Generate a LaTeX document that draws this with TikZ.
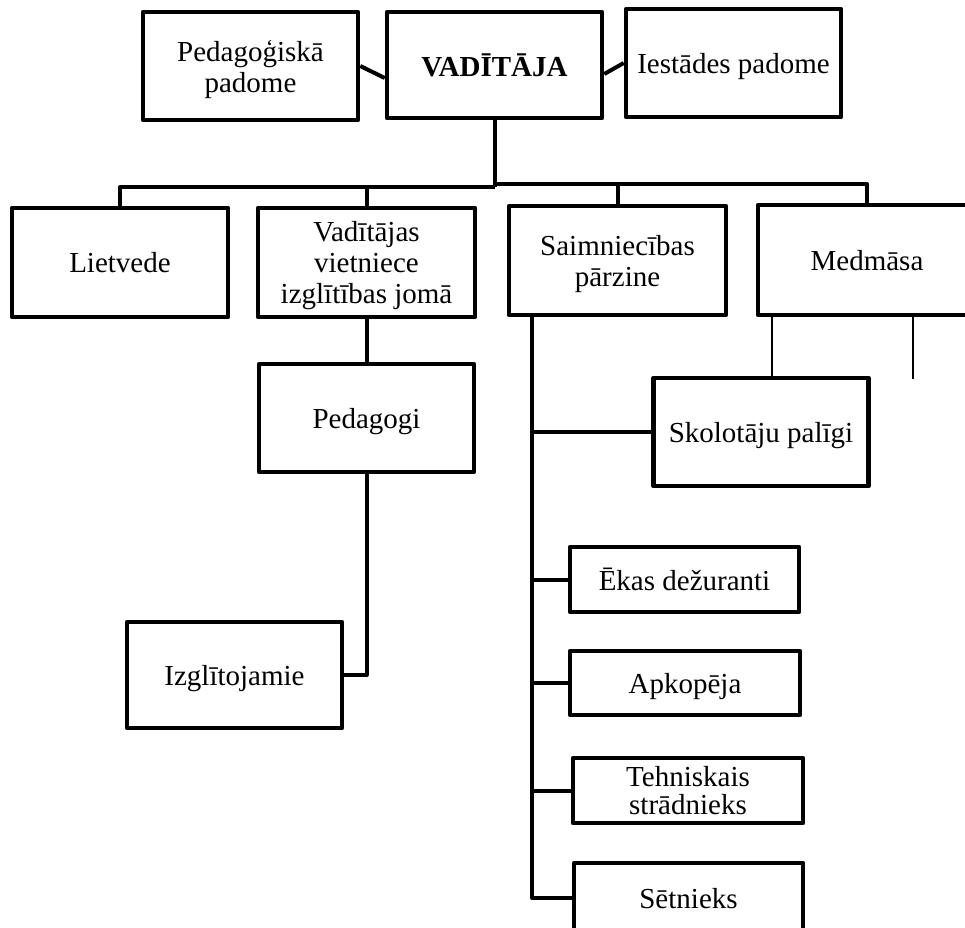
\documentclass[tikz,border=0pt]{standalone}
\usepackage{fontspec}
\setmainfont{Liberation Serif}
\begin{document}
\begin{tikzpicture}[x=1pt,y=-1pt,
  box/.style={draw,line width=4.5pt,line join=round,rectangle,inner sep=0pt,align=center,
    text depth=0pt,font=\fontsize{29}{31}\selectfont},
  conn/.style={line width=4pt,line join=round},
  thinconn/.style={line width=1.2pt}]
\useasboundingbox (0,0) rectangle (965,927);
\clip (0,0) rectangle (965,927);
% top row
\node[box,minimum width=215pt,minimum height=108pt] (ped) at (250.5,66) {Pedagoģiskā\\padome};
\node[box,minimum width=215pt,minimum height=106pt,font=\fontsize{29}{31}\selectfont\bfseries] (vad) at (494.5,65) {VADĪTĀJA};
\node[box,minimum width=215pt,minimum height=108pt] (iest) at (733.5,63) {Iestādes padome};
% second row
\node[box,minimum width=216pt,minimum height=109pt] (liet) at (120,262.5) {Lietvede};
\node[box,minimum width=217pt,minimum height=109pt] (viet) at (366.5,262.5) {Vadītājas\\vietniece\\izglītības jomā};
\node[box,minimum width=217pt,minimum height=109pt] (saim) at (617.5,260.5) {Saimniecības\\pārzine};
\node[box,minimum width=218pt,minimum height=110pt] (med) at (867,260) {Medmāsa};
% left branch
\node[box,minimum width=215pt,minimum height=108pt] (ped2) at (366.5,418) {Pedagogi};
\node[box,minimum width=215pt,minimum height=106pt] (izgl) at (234.5,675) {Izglītojamie};
% right branch
\node[box,minimum width=215pt,minimum height=108pt] (skol) at (761,432) {Skolotāju palīgi};
\node[box,minimum width=229pt,minimum height=65pt] (ekas) at (684.5,579.5) {Ēkas dežuranti};
\node[box,minimum width=230pt,minimum height=64pt] (apk) at (685,683) {Apkopēja};
\node[box,minimum width=230pt,minimum height=65pt,font=\fontsize{29}{28}\selectfont] (tech) at (688,790.5) {Tehniskais\\strādnieks};
\node[box,minimum width=229pt,minimum height=70pt] (set) at (688.5,898) {Sētnieks};
% connectors top
\draw[conn] (ped.east) -- ([yshift=-13pt]vad.west);
\draw[conn] ([yshift=-9pt]vad.east) -- (iest.west);
\coordinate (b1) at (494.5,187);
\coordinate (b2) at (494.5,184);
\draw[conn] (vad.south) -- (b1);
\draw[conn] (b1) -| (liet.north);
\draw[conn] (b1) -| (viet.north);
\draw[conn] (b2) -| (saim.north);
\draw[conn] (b2) -| (med.north);
% left branch
\draw[conn] (viet.south) -- (ped2.north);
\draw[conn] (ped2.south) |- (izgl.east);
% right branch
\coordinate (s0) at ([xshift=-85.5pt]saim.south);
\draw[conn] (s0) |- (set.west);
\draw[conn] (s0 |- skol.west) -- (skol.west);
\draw[conn] (s0 |- ekas.west) -- (ekas.west);
\draw[conn] (s0 |- apk.west) -- (apk.west);
\draw[conn] (s0 |- tech.west) -- (tech.west);
% thin lines from Medmasa
\coordinate (m1) at ([xshift=-95pt]med.south);
\draw[thinconn] (m1) -- (m1 |- skol.north);
\coordinate (m2) at ([xshift=46pt]med.south);
\coordinate (m2e) at ([yshift=-62pt]m2);
\draw[thinconn] (m2) -- (m2e);
\end{tikzpicture}
\end{document}
